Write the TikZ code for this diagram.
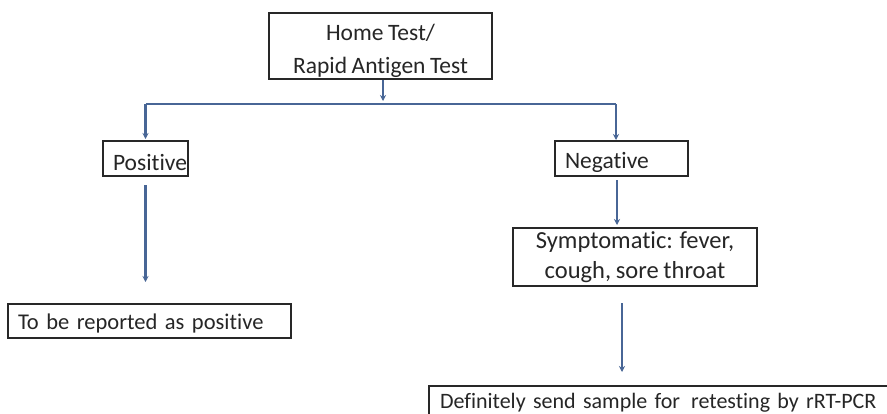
\documentclass[tikz,border=0pt]{standalone}
\usepackage{fontspec}
\setmainfont[Ligatures={NoCommon},WordSpace=0.85]{Carlito}
\usetikzlibrary{arrows.meta}
\definecolor{arrcol}{RGB}{72,102,150}
\definecolor{boxcol}{RGB}{40,40,40}
\tikzset{
  box/.style={draw=boxcol, line width=2pt, inner sep=0pt, font=\fontsize{23.5}{33}\selectfont, text=black!85},
  arr/.style={draw=arrcol, line width=2.6pt, -{Stealth[length=6pt,width=6pt]}},
  ln/.style={draw=arrcol, line width=2.4pt}
}
\begin{document}
\begin{tikzpicture}[x=1pt,y=-1pt]
\useasboundingbox[fill=white] (0,0) rectangle (887,413);
\node[box, minimum width=223pt, minimum height=66pt, align=center] (home) at (380.5,46) {\rule{0pt}{27pt}Home Test/\\Rapid Antigen Test};
\node[box, minimum width=85pt, minimum height=35pt, text width=83pt, align=right] (pos) at (145.5,158.5) {\rule{0pt}{24pt}Positive};
\node[box, minimum width=133pt, minimum height=35pt, text width=113pt, align=left] (neg) at (621.5,158.5) {\rule{0pt}{24pt}Negative};
\node[box, minimum width=283pt, minimum height=34pt, text width=263pt, align=left, font=\fontsize{22.5}{30}\selectfont] (rep) at (149.5,321) {\rule{0pt}{21pt}To be reported as positive};
\node[box, minimum width=244pt, minimum height=58pt, align=center, font=\fontsize{24.5}{30}\selectfont] (sym) at (635,257) {Symptomatic: fever,\\cough, sore throat};
\node[box, minimum width=472pt, minimum height=46pt, anchor=north west, text width=450pt, align=left, font=\fontsize{22}{30}\selectfont] (def) at (428,385) {\raisebox{16pt}{Definitely send sample for\ \,retesting by rRT-PCR}};
\coordinate (hb) at (383,104);
\draw[arr] ([xshift=2.5pt]home.south) -- ++(0,21);
\draw[ln] (hb -| pos.north) -- (hb -| 616,0);
\draw[arr] (hb -| pos.north) -- ([yshift=1pt]pos.north);
\draw[arr] (616,104) -- (616,140);
\draw[arr] ([yshift=-8pt]pos.south) -- ([yshift=21pt]pos.south |- rep.north);
\coordinate (na) at (617,180);
\coordinate (nb) at (617,225);
\draw[arr] (na) -- (nb);
\coordinate (sa) at (622,303);
\coordinate (sb) at (622,372);
\draw[arr] (sa) -- (sb);
\end{tikzpicture}
\end{document}
